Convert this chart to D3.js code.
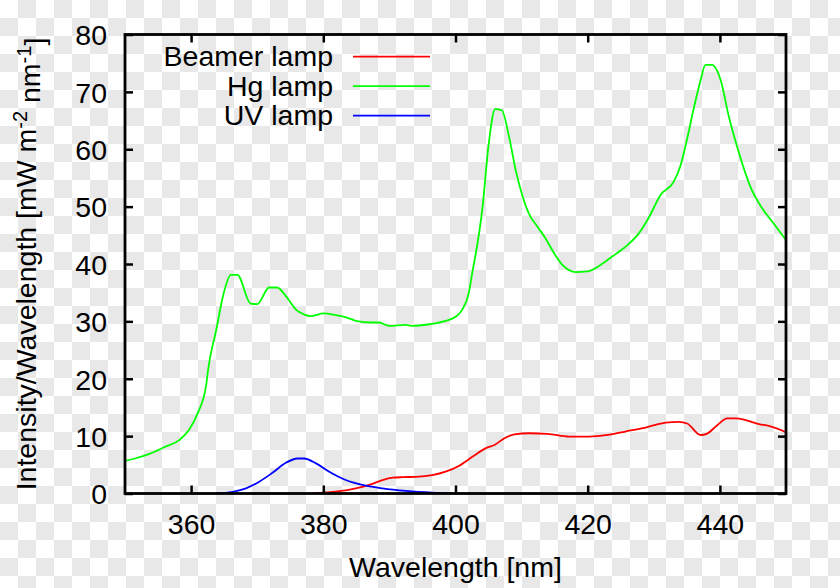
<!DOCTYPE html>
<html>
<head>
<meta charset="utf-8">
<script src="https://cdn.jsdelivr.net/npm/d3@7"></script>
<style>
  html, body { margin: 0; padding: 0; background: #fff; }
  svg { display: block; }
  text { font-family: "Liberation Sans", Arial, Helvetica, sans-serif; fill: #000; }
</style>
</head>
<body>
<svg id="chart" width="840" height="588"></svg>
<script>
// ---- Data ----
const seriesNames = ["Beamer lamp", "Hg lamp", "UV lamp"];
const seriesColors = ["#ff0000", "#00ff00", "#0000ff"];

const hgWavelength = [350, 351.5, 353.7, 356, 358.2, 359.7, 361, 362.3, 362.5, 363.8, 365, 366, 367, 369, 370, 371.8, 373, 374.4, 375.9, 377.1, 378, 380.1, 381.9, 383.2, 384.9, 387.2, 388.5, 389.2, 390, 392.5, 393.5, 396, 398.5, 400, 401, 402, 402.6, 403.1, 404.1, 405, 406, 407, 408.1, 409.1, 410.1, 411.1, 412.4, 413.6, 414.9, 416.2, 418.2, 419.9, 421.9, 423.7, 425.7, 427.7, 429.3, 431, 433, 434, 435, 436.1, 437.1, 437.8, 438.8, 440.1, 441.35, 442.9, 444.6, 446.4, 447.9, 450];
const hgValue = [5.7, 6.1, 6.9, 8.1, 9.3, 11.1, 14.0, 19.0, 21.0, 28.5, 35.2, 38.1, 38.1, 33.1, 33.0, 35.9, 35.9, 34.3, 32.0, 31.2, 30.9, 31.4, 31.1, 30.8, 30.1, 29.8, 29.8, 29.5, 29.2, 29.4, 29.2, 29.5, 30.1, 30.8, 32.0, 34.9, 38.9, 42.0, 50.0, 60.7, 67.0, 66.8, 62.2, 56.4, 52.0, 48.8, 46.5, 44.5, 41.9, 39.8, 38.6, 38.7, 39.8, 41.3, 43.0, 45.3, 48.2, 52.0, 54.3, 57.0, 61.6, 67.4, 72.1, 74.7, 74.7, 72.1, 65.7, 59.3, 53.5, 49.7, 47.4, 44.2];

const beamerWavelength = [378.4, 380.5, 382.4, 384.9, 386.95, 388.95, 390.5, 392, 394, 396.5, 398.5, 400.5, 402.55, 404.6, 405.9, 407.35, 408.9, 411.1, 413.9, 417.2, 420.2, 423, 425.7, 428.75, 431.8, 433.8, 435.05, 437.1, 438, 439.6, 441.1, 442.4, 443.9, 445.9, 447.4, 450];
const beamerValue = [0.0, 0.2, 0.4, 0.9, 1.5, 2.35, 2.75, 2.85, 2.9, 3.2, 3.8, 4.8, 6.4, 7.9, 8.45, 9.6, 10.3, 10.5, 10.4, 9.9, 9.9, 10.2, 10.8, 11.5, 12.35, 12.5, 12.2, 10.2, 10.4, 11.9, 13.1, 13.1, 12.8, 12.1, 11.8, 10.7];

const uvWavelength = [363.8, 366.3, 368.3, 370.3, 372.3, 374.4, 376.1, 377.1, 378.9, 380.9, 383.4, 385.9, 388.95, 392.5, 396.5, 399.5];
const uvValue = [0.03, 0.3, 0.9, 2.05, 3.6, 5.4, 6.1, 6.1, 5.25, 3.8, 2.35, 1.5, 0.9, 0.45, 0.15, 0.03];

const xTicks = [360, 380, 400, 420, 440];
const yTicks = [0, 10, 20, 30, 40, 50, 60, 70, 80];
const xDomain = [350, 450];
const yDomain = [0, 80];

// ---- Layout ----
const svg = d3.select("#chart");
const W = 840, H = 588;
const plot = { left: 125, right: 786, top: 34.5, bottom: 493.5 };

// checkerboard background (transparent-image look of the reference)
const defs = svg.append("defs");
const pat = defs.append("pattern").attr("id", "checker")
  .attr("width", 36).attr("height", 36).attr("patternUnits", "userSpaceOnUse");
pat.append("rect").attr("width", 36).attr("height", 36).attr("fill", "#ffffff");
pat.append("rect").attr("x", 18).attr("y", 0).attr("width", 18).attr("height", 18).attr("fill", "#e8e8e8");
pat.append("rect").attr("x", 0).attr("y", 18).attr("width", 18).attr("height", 18).attr("fill", "#e8e8e8");
svg.append("rect").attr("width", W).attr("height", H).attr("fill", "url(#checker)");

const x = d3.scaleLinear().domain(xDomain).range([plot.left, plot.right]);
const y = d3.scaleLinear().domain(yDomain).range([plot.bottom, plot.top]);

const fontSize = 28.5;
const supSize = 20;
const tickLen = 8;

// clip
defs.append("clipPath").attr("id", "clip").append("rect")
  .attr("x", plot.left).attr("y", plot.top)
  .attr("width", plot.right - plot.left).attr("height", plot.bottom - plot.top);

// series
const series = [
  { name: seriesNames[0], color: seriesColors[0], xs: beamerWavelength, ys: beamerValue },
  { name: seriesNames[1], color: seriesColors[1], xs: hgWavelength, ys: hgValue },
  { name: seriesNames[2], color: seriesColors[2], xs: uvWavelength, ys: uvValue }
];
const line = d3.line().x(d => x(d[0])).y(d => y(d[1])).curve(d3.curveMonotoneX);

const gLines = svg.append("g").attr("clip-path", "url(#clip)");
series.forEach(s => {
  const pts = s.xs.map((v, i) => [v, s.ys[i]]);
  gLines.append("path").datum(pts)
    .attr("d", line)
    .attr("fill", "none")
    .attr("stroke", s.color)
    .attr("stroke-width", 1.8)
    .attr("stroke-linejoin", "round");
});

// axes (gnuplot-like: inward ticks, mirrored)
const axisStyle = g => {
  g.select(".domain").remove();
  g.selectAll(".tick line").attr("stroke", "#000").attr("stroke-width", 2.5);
  g.selectAll(".tick text").style("font-size", fontSize + "px")
    .style("font-family", '"Liberation Sans", Arial, sans-serif').attr("fill", "#000");
};

svg.append("g").attr("transform", `translate(0,${plot.bottom})`)
  .call(d3.axisBottom(x).tickValues(xTicks).tickSize(-tickLen).tickPadding(20).tickFormat(d3.format("d")))
  .call(axisStyle)
  .call(g => g.selectAll(".tick text").attr("dy", "0.72em"));

svg.append("g").attr("transform", `translate(0,${plot.top})`)
  .call(d3.axisTop(x).tickValues(xTicks).tickSize(-tickLen).tickFormat(""))
  .call(axisStyle);

svg.append("g").attr("transform", `translate(${plot.left},0)`)
  .call(d3.axisLeft(y).tickValues(yTicks).tickSize(-tickLen).tickPadding(18).tickFormat(d3.format("d")))
  .call(axisStyle)
  .call(g => g.selectAll(".tick text").attr("dy", "0.36em"));

svg.append("g").attr("transform", `translate(${plot.right},0)`)
  .call(d3.axisRight(y).tickValues(yTicks).tickSize(-tickLen).tickFormat(""))
  .call(axisStyle);

// frame
svg.append("rect")
  .attr("x", plot.left).attr("y", plot.top)
  .attr("width", plot.right - plot.left).attr("height", plot.bottom - plot.top)
  .attr("fill", "none").attr("stroke", "#000").attr("stroke-width", 2.8);

// axis titles
svg.append("text")
  .attr("x", (plot.left + plot.right) / 2).attr("y", 577)
  .attr("text-anchor", "middle")
  .style("font-size", fontSize + "px")
  .text("Wavelength [nm]");

const yt = svg.append("text")
  .attr("transform", `translate(36,${(plot.top + plot.bottom) / 2}) rotate(-90)`)
  .attr("text-anchor", "middle")
  .style("font-size", fontSize + "px");
yt.append("tspan").text("Intensity/Wavelength [mW m");
yt.append("tspan").attr("dy", "-0.45em").style("font-size", supSize + "px").text("-2");
yt.append("tspan").attr("dy", "0.45em").text(" nm");
yt.append("tspan").attr("dy", "-0.45em").style("font-size", supSize + "px").text("-1");
yt.append("tspan").attr("dy", "0.45em").text("]");

// legend
const legend = svg.append("g");
series.forEach((s, i) => {
  const ly = 56.7 + i * 29.5;
  legend.append("text")
    .attr("x", 333).attr("y", ly + 9.5)
    .attr("text-anchor", "end")
    .style("font-size", fontSize + "px")
    .text(s.name);
  legend.append("line")
    .attr("x1", 353).attr("x2", 430).attr("y1", ly).attr("y2", ly)
    .attr("stroke", s.color).attr("stroke-width", 1.8);
});
</script>
</body>
</html>
